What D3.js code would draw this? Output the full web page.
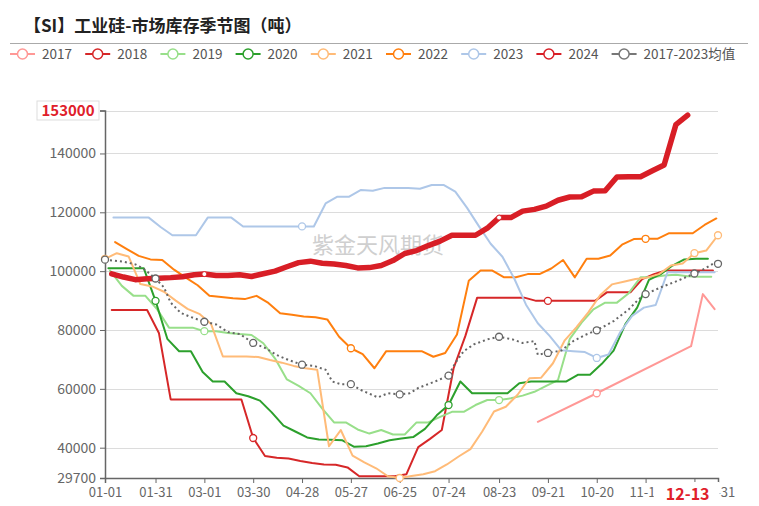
<!DOCTYPE html>
<html><head><meta charset="utf-8">
<script src="https://cdn.jsdelivr.net/npm/d3@7/dist/d3.min.js"></script>
<style>body{margin:0;background:#fff}svg{display:block}</style>
</head><body><svg id="c" width="759" height="506"></svg>
<script>
const titleText = "【SI】工业硅-市场库存季节图（吨）";
const watermarkText = "紫金天风期货";
const xTickLabels = ["01-01","01-31","03-01","03-30","04-28","05-27","06-25","07-24","08-23","09-21","10-20","11-18","12-17","12-31"];
const yTicks = [29700,40000,60000,80000,100000,120000,140000];
const yMin = 29700, yMax = 154600;
const highlightDate = "12-13";

const s2017 = [["09-15",48800],["10-20",58500],["12-15",74500],["12-22",92200],["12-29",87100]];
const s2018 = [["01-05",86800],["01-12",86800],["01-19",86800],["01-26",86800],["02-02",79000],["02-09",56400],["02-16",56400],["02-23",56400],["03-02",56400],["03-09",56400],["03-16",56400],["03-23",56400],["03-30",43300],["04-06",37200],["04-13",36600],["04-20",36300],["04-27",35500],["05-04",34800],["05-11",34300],["05-18",34200],["05-25",33300],["06-01",30300],["06-08",30300],["06-15",30300],["06-22",30300],["06-29",31000],["07-06",40200],["07-13",43000],["07-20",46000],["07-27",67000],["08-03",78000],["08-10",91000],["08-17",91000],["08-24",91000],["08-31",91000],["09-07",91000],["09-14",89900],["09-21",89900],["09-28",89900],["10-05",89900],["10-12",89900],["10-19",89900],["10-26",92800],["11-02",92800],["11-09",92800],["11-16",97300],["11-23",99000],["11-30",100200],["12-07",100200],["12-14",100200],["12-21",100200],["12-28",100200]];
const s2019 = [["01-04",100200],["01-11",95000],["01-18",91600],["01-25",91600],["02-01",87000],["02-08",80800],["02-15",80800],["02-22",80800],["03-01",79600],["03-08",79600],["03-15",79000],["03-22",78600],["03-29",78300],["04-05",75500],["04-12",70300],["04-19",63200],["04-26",61000],["05-03",58500],["05-10",53300],["05-17",48600],["05-24",48600],["05-31",46200],["06-07",44800],["06-14",46000],["06-21",44500],["06-28",44500],["07-05",48600],["07-12",48600],["07-19",50500],["07-26",52200],["08-02",52200],["08-09",54500],["08-16",56200],["08-23",56200],["08-30",56800],["09-06",57700],["09-13",59000],["09-20",61000],["09-27",63000],["10-04",77000],["10-11",82500],["10-18",87000],["10-25",89300],["11-01",89300],["11-08",92500],["11-15",97900],["11-22",97900],["11-29",98500],["12-06",98800],["12-13",98300],["12-20",98100],["12-27",98100]];
const s2020 = [["01-03",101000],["01-10",101000],["01-17",101000],["01-24",101000],["01-31",89900],["02-07",77000],["02-14",72800],["02-21",72800],["02-28",65700],["03-06",62500],["03-13",62500],["03-20",58500],["03-27",57500],["04-03",56000],["04-10",52000],["04-17",47500],["04-24",45500],["05-01",43500],["05-08",42800],["05-15",42700],["05-22",42500],["05-29",40300],["06-05",40500],["06-12",41400],["06-19",42500],["06-26",43100],["07-03",43600],["07-10",46400],["07-17",51000],["07-24",54500],["07-31",62500],["08-07",58500],["08-14",58500],["08-21",58500],["08-28",58500],["09-04",61900],["09-11",62500],["09-18",62500],["09-25",62500],["10-02",62500],["10-09",64800],["10-16",64800],["10-23",68500],["10-30",73000],["11-06",82000],["11-13",87600],["11-20",97000],["11-27",99000],["12-04",101900],["12-11",104000],["12-18",104200],["12-25",104200]];
const s2021 = [["01-01",104200],["01-08",106100],["01-15",105000],["01-22",95600],["01-29",94800],["02-05",93000],["02-12",90000],["02-19",87200],["02-26",85500],["03-05",82000],["03-12",71000],["03-19",71000],["03-26",71000],["04-02",70800],["04-09",69800],["04-16",68900],["04-23",67800],["04-30",67000],["05-07",66500],["05-14",40500],["05-21",46000],["05-28",37300],["06-04",35000],["06-11",33000],["06-18",30300],["06-25",29700],["07-02",30400],["07-09",31000],["07-16",32000],["07-23",34300],["07-30",37000],["08-06",39500],["08-13",45500],["08-20",52300],["08-27",53900],["09-03",58000],["09-10",63600],["09-17",63800],["09-24",68700],["10-01",76500],["10-08",81000],["10-15",86000],["10-22",91800],["10-29",95500],["11-05",96400],["11-12",97300],["11-19",97800],["11-26",99000],["12-03",101900],["12-10",102600],["12-17",106100],["12-24",107000],["12-31",112200]];
const s2022 = [["01-07",109900],["01-14",107500],["01-21",105200],["01-28",104000],["02-04",103800],["02-11",100500],["02-18",97800],["02-25",95200],["03-04",91600],["03-11",91200],["03-18",90800],["03-25",90500],["04-01",91600],["04-08",89200],["04-15",85700],["04-22",85200],["04-29",84600],["05-06",84300],["05-13",83600],["05-20",77700],["05-27",73800],["06-03",71800],["06-10",67000],["06-17",72800],["06-24",72800],["07-01",72800],["07-08",72800],["07-15",70900],["07-22",72200],["07-29",78500],["08-05",96700],["08-12",100200],["08-19",100200],["08-26",97900],["09-02",97900],["09-09",99000],["09-16",99000],["09-23",100900],["09-30",103800],["10-07",97900],["10-14",104200],["10-21",104200],["10-28",105300],["11-04",109000],["11-11",110900],["11-18",111000],["11-25",111000],["12-02",112900],["12-09",112900],["12-16",112900],["12-23",115700],["12-30",117900]];
const s2023 = [["01-06",118200],["01-13",118200],["01-20",118200],["01-27",118200],["02-03",115000],["02-10",112200],["02-17",112200],["02-24",112200],["03-03",118200],["03-10",118200],["03-17",118200],["03-24",115200],["03-31",115200],["04-07",115200],["04-14",115200],["04-21",115200],["04-28",115200],["05-05",115200],["05-12",123000],["05-19",125300],["05-26",125300],["06-02",127600],["06-09",127300],["06-16",128300],["06-23",128300],["06-30",128300],["07-07",128000],["07-14",129300],["07-21",129300],["07-28",127000],["08-04",121500],["08-11",115300],["08-18",109300],["08-25",104900],["09-01",97500],["09-08",88600],["09-15",82300],["09-22",78000],["09-29",73100],["10-06",72800],["10-13",72500],["10-20",70500],["10-27",71700],["11-03",79300],["11-10",84800],["11-17",87600],["11-24",88500],["12-01",99600],["12-08",99600],["12-15",99600],["12-22",99600],["12-29",99600]];
const s2024 = [["01-05",99100],["01-12",98000],["01-19",97100],["01-26",97400],["02-02",97600],["02-09",97800],["02-16",98100],["02-23",98800],["03-01",99000],["03-08",98500],["03-15",98500],["03-22",98800],["03-29",98200],["04-05",99100],["04-12",100000],["04-19",101500],["04-26",102900],["05-03",103400],["05-10",102700],["05-17",102400],["05-24",101900],["05-31",101100],["06-07",101200],["06-14",101900],["06-21",103600],["06-28",106000],["07-05",107000],["07-12",108700],["07-19",110200],["07-26",112200],["08-02",112200],["08-09",112200],["08-16",114600],["08-23",118200],["08-30",118200],["09-06",120400],["09-13",121000],["09-20",122100],["09-27",124100],["10-04",125200],["10-11",125300],["10-18",127200],["10-25",127300],["11-01",132000],["11-08",132100],["11-15",132100],["11-22",134100],["11-29",136100],["12-06",149800],["12-13",153000]];
const sAvg = [["01-01",103900],["01-06",103600],["01-12",103200],["01-19",102300],["01-24",100800],["01-31",97500],["02-05",94500],["02-09",89300],["02-15",85800],["02-21",84400],["03-01",82800],["03-08",81900],["03-15",79300],["03-22",78600],["03-30",75600],["04-06",73900],["04-13",71500],["04-20",69800],["04-28",68200],["05-05",67800],["05-12",66500],["05-16",62500],["05-21",61600],["05-27",61600],["06-02",59600],["06-12",57100],["06-18",58500],["06-25",58100],["07-01",58500],["07-06",60300],["07-16",62500],["07-24",64500],["07-28",68800],["08-02",72800],["08-08",75100],["08-16",76800],["08-23",77700],["08-31",76800],["09-06",75600],["09-13",76200],["09-15",71600],["09-21",72200],["09-29",73000],["10-06",76200],["10-13",78300],["10-20",79900],["10-30",83000],["11-08",87000],["11-14",90500],["11-18",92200],["11-27",94500],["12-07",96700],["12-17",99200],["12-23",100800],["12-28",102500],["12-31",102500]];

const seriesNames = ["2017","2018","2019","2020","2021","2022","2023","2024","2017-2023均值"];
const seriesData = [s2017,s2018,s2019,s2020,s2021,s2022,s2023,s2024,sAvg];
const seriesColors = ["#ff9896","#d62728","#98df8a","#2ca02c","#ffbb78","#ff7f0e","#aec7e8","#d81e26","#777777"];
const seriesWidths = [2,2,2,2,2,2,2,5.5,2];

const font = "'Noto Sans CJK SC','Noto Sans',sans-serif";
const svg = d3.select("#c");
const dayOf = s => { const [m,d] = s.split("-").map(Number); return (Date.UTC(2023,m-1,d)-Date.UTC(2023,0,1))/864e5; };
const x = d3.scaleLinear().domain([0,364]).range([105,718]);
const y = d3.scaleLinear().domain([yMin,yMax]).range([478,110.5]);

// title
svg.append("text").attr("x",24).attr("y",32).attr("font-family",font).attr("font-weight",700)
  .attr("font-size",17).attr("fill","#222").text(titleText);
svg.append("line").attr("x1",10).attr("x2",748).attr("y1",43.5).attr("y2",43.5).attr("stroke","#aaa");

// legend
seriesNames.forEach((n,i)=>{
  const g = svg.append("g").attr("transform",`translate(${10+i*75.2},54)`);
  g.append("line").attr("x1",0).attr("x2",25).attr("stroke",seriesColors[i]).attr("stroke-width",2);
  g.append("circle").attr("cx",12.5).attr("r",5).attr("fill","#fff").attr("stroke",seriesColors[i]).attr("stroke-width",1.5);
  g.append("text").attr("x",32).attr("dy","0.35em").attr("font-family",font).attr("font-size",13.5)
    .attr("fill","#555").text(n);
});

// grid
const gridVals = yTicks.filter(v=>v!==yMin).concat([yMax]);
svg.append("g").selectAll("line").data(gridVals).join("line")
  .attr("x1",x(0)).attr("x2",x(364)).attr("y1",d=>Math.round(y(d))+0.5).attr("y2",d=>Math.round(y(d))+0.5)
  .attr("stroke","#dcdcdc");

// watermark
svg.append("text").attr("x",378).attr("y",253).attr("text-anchor","middle").attr("font-family",font)
  .attr("font-size",22).attr("fill","#cfcfcf").text(watermarkText);

// axes
const maxVal = d3.max(s2024,d=>d[1]);
const yAxis = d3.axisLeft(y).tickValues(yTicks.concat([yMax])).tickSize(5).tickPadding(4)
  .tickFormat(v => v===yMax ? "" : String(v));
const gy = svg.append("g").attr("transform",`translate(${x(0)},0)`).call(yAxis);
gy.select(".domain").attr("stroke","#666").attr("stroke-width",1.5);
gy.selectAll(".tick line").attr("stroke","#666");
gy.selectAll(".tick text").attr("font-family",font).attr("font-size",14).attr("fill","#666");

// label hidden when it would collide with its neighbour (as the original chart hides it)
const hiddenLabels = ["12-17"];
const xAxis = d3.axisBottom(x).tickValues(xTickLabels.map(dayOf)).tickSize(5).tickPadding(5)
  .tickFormat((d,i)=>hiddenLabels.includes(xTickLabels[i]) ? "" : xTickLabels[i]);
const gx = svg.append("g").attr("transform",`translate(0,${y(yMin)})`).call(xAxis);
gx.select(".domain").attr("stroke","#666").attr("stroke-width",1.5);
gx.selectAll(".tick line").attr("stroke","#666");
gx.selectAll(".tick text").attr("font-family",font).attr("font-size",13).attr("fill","#666");

// series
const line = d3.line().x(d=>x(dayOf(d[0]))).y(d=>y(d[1]));
seriesData.forEach((data,i)=>{
  const p = svg.append("path").datum(data).attr("d",line).attr("fill","none")
    .attr("stroke",seriesColors[i]).attr("stroke-width",seriesWidths[i])
    .attr("stroke-linejoin","round").attr("stroke-linecap","round");
  if (i===8) p.attr("stroke-dasharray","2,3").attr("stroke-linecap","butt").attr("stroke","#666");
});
seriesData.forEach((data,i)=>{
  const pts = data.filter(d=>xTickLabels.includes(d[0]));
  svg.append("g").selectAll("circle").data(pts).join("circle")
    .attr("cx",d=>x(dayOf(d[0]))).attr("cy",d=>y(d[1]))
    .attr("r", i===7 ? 2.5 : 3.5).attr("fill","#fff")
    .attr("stroke", i===8 ? "#666" : seriesColors[i]).attr("stroke-width", i===7 ? 1 : 1.3);
});

// highlighted labels
const hl = svg.append("g");
hl.append("rect").attr("x",37).attr("y",y(yMax)-9.5).attr("width",62).attr("height",19)
  .attr("fill","#fff").attr("stroke","#ddd");
hl.append("text").attr("x",68).attr("y",y(yMax)).attr("dy","0.36em").attr("text-anchor","middle")
  .attr("font-family",font).attr("font-weight",700).attr("font-size",15).attr("fill","#e0202a").text(maxVal);
const hx = x(dayOf(highlightDate));
hl.append("rect").attr("x",hx-34).attr("y",y(yMin)+4).attr("width",66).attr("height",23).attr("fill","#fff");
hl.append("text").attr("x",hx).attr("y",y(yMin)+16).attr("dy","0.36em").attr("text-anchor","middle")
  .attr("font-family",font).attr("font-weight",700).attr("font-size",16).attr("fill","#e0202a").text(highlightDate);
</script></body></html>
